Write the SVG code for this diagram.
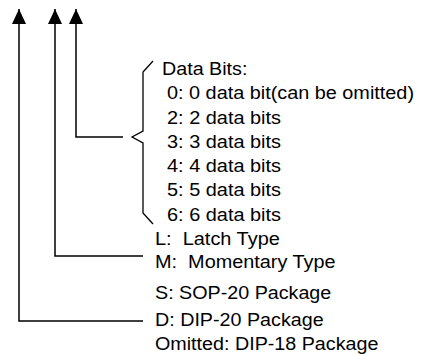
<svg xmlns="http://www.w3.org/2000/svg" width="427" height="356" viewBox="0 0 427 356">
<style>
.t{font-family:"Liberation Sans",Arial,sans-serif;font-size:17.5px;fill:#000}
.c{fill:none;stroke:#000;stroke-width:1.5}
.b{fill:none;stroke:#000;stroke-width:1.3}
</style>
<defs>
<marker id="ah" viewBox="0 0 15 14" refX="15" refY="7" markerWidth="15" markerHeight="14" markerUnits="userSpaceOnUse" orient="auto">
<path d="M0,0 L15,7 L0,14 z" fill="#000"/>
</marker>
</defs>
<g id="connectors">
<path class="c" d="M143,321 H19 V9" marker-end="url(#ah)"/>
<path class="c" d="M143,256 H55 V9" marker-end="url(#ah)"/>
<path class="c" d="M123,137 H76 V9" marker-end="url(#ah)"/>
</g>
<g id="databits">
<path class="b" d="M153,61 L143,72 L143,131 L132,137 L143,143 L143,213 L153,224"/>
<text class="t" x="162" y="75" textLength="85.4" lengthAdjust="spacingAndGlyphs">Data Bits:</text>
<text class="t" x="167" y="99" textLength="247" lengthAdjust="spacingAndGlyphs">0: 0 data bit(can be omitted)</text>
<text class="t" x="167" y="123.5" textLength="114" lengthAdjust="spacingAndGlyphs">2: 2 data bits</text>
<text class="t" x="167" y="148" textLength="114" lengthAdjust="spacingAndGlyphs">3: 3 data bits</text>
<text class="t" x="167" y="172" textLength="114" lengthAdjust="spacingAndGlyphs">4: 4 data bits</text>
<text class="t" x="167" y="196" textLength="114" lengthAdjust="spacingAndGlyphs">5: 5 data bits</text>
<text class="t" x="167" y="220.5" textLength="114" lengthAdjust="spacingAndGlyphs">6: 6 data bits</text>
</g>
<g id="type">
<text class="t" x="155" y="245" textLength="124.8" lengthAdjust="spacingAndGlyphs" xml:space="preserve">L:  Latch Type</text>
<text class="t" x="155" y="268" textLength="180.6" lengthAdjust="spacingAndGlyphs" xml:space="preserve">M:  Momentary Type</text>
</g>
<g id="package">
<text class="t" x="155" y="299" textLength="176.3" lengthAdjust="spacingAndGlyphs">S: SOP-20 Package</text>
<text class="t" x="155" y="326" textLength="168.6" lengthAdjust="spacingAndGlyphs">D: DIP-20 Package</text>
<text class="t" x="155" y="350" textLength="223.4" lengthAdjust="spacingAndGlyphs">Omitted: DIP-18 Package</text>
</g>
</svg>
